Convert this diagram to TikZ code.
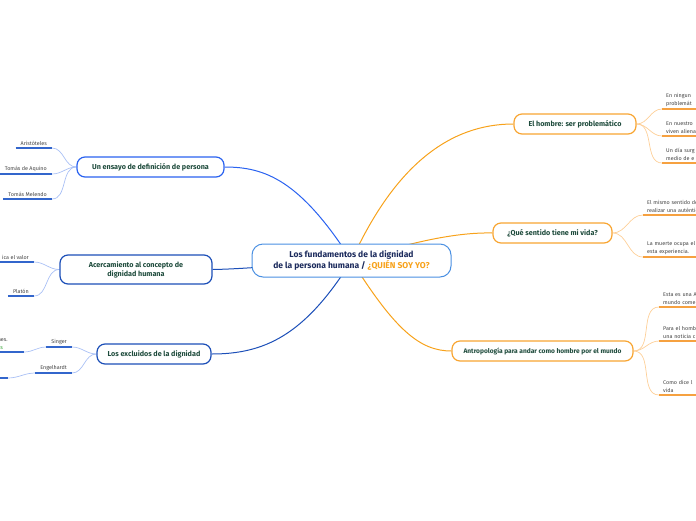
\documentclass[tikz,border=0pt]{standalone}
\usepackage{fontspec}
\setmainfont{Fira Sans}
\usetikzlibrary{backgrounds}

\definecolor{rootline}{HTML}{4A90E2}
\definecolor{rootnavy}{HTML}{1B2A5C}
\definecolor{yoorange}{HTML}{F7A21B}
\definecolor{blueA}{HTML}{2A62F0}
\definecolor{blueB}{HTML}{1C4FB8}
\definecolor{twigblue}{HTML}{A9C0F5}
\definecolor{ulblue}{HTML}{3366CC}
\definecolor{orangeA}{HTML}{F8A532}
\definecolor{twigorange}{HTML}{FDCF98}
\definecolor{ulorange}{HTML}{F6A140}
\definecolor{topicgreen}{HTML}{1E4B3C}
\definecolor{leafgray}{HTML}{444444}
\definecolor{linkgreen}{HTML}{2CA02C}

\tikzset{
  root/.style={draw=rootline, line width=1pt, rounded corners=11pt, fill=white,
    align=center, text=rootnavy, font=\fontsize{8.5}{10.5}\selectfont\bfseries,
    minimum width=199pt, minimum height=33pt, inner sep=2pt},
  topic/.style={draw=#1, line width=1.2pt, rounded corners=8pt, fill=white,
    align=center, text=topicgreen, font=\fontsize{7.2}{9}\selectfont\bfseries,
    minimum height=20pt, inner sep=2pt},
  leafL/.style={anchor=south east, align=right, text=leafgray,
    font=\fontsize{5.4}{7.8}\selectfont, inner xsep=5pt, inner ysep=2pt},
  leafR/.style={anchor=south west, align=left, text=leafgray, text width=90pt,
    font=\fontsize{5.4}{7.8}\selectfont, inner xsep=4pt, inner ysep=2pt},
  branch/.style={draw=#1, line width=1pt},
  twig/.style={draw=#1, line width=0.7pt},
  uline/.style={draw=#1, line width=1.8pt},
}

\begin{document}
\begin{tikzpicture}[x=1pt,y=-1pt]
\useasboundingbox (0,0) rectangle (696,520);
\clip (0,0) rectangle (696,520);

% centre
\node[root] (root) at (351.5,260.5)
  {Los fundamentos de la dignidad\\de la persona humana / {\color{yoorange}¿QUIÉN SOY YO?}};

% left topics
\node[topic=blueA, minimum width=147pt] (ensayo) at (150.5,167) {Un ensayo de definición de persona};
\node[topic=blueB, minimum width=152pt, minimum height=29pt] (acerca) at (136,269.5)
  {Acercamiento al concepto de\\dignidad humana};
\node[topic=blueB, minimum width=114pt] (excluidos) at (154,354) {Los excluidos de la dignidad};

% right topics
\node[topic=orangeA, minimum width=122pt] (hombre) at (575,124) {El hombre: ser problemático};
\node[topic=orangeA, minimum width=119pt] (sentido) at (552.5,233) {¿Qué sentido tiene mi vida?};
\node[topic=orangeA, minimum width=181pt, font=\fontsize{6.6}{9}\selectfont\bfseries] (antropo) at (542.5,351)
  {Antropología para andar como hombre por el mundo};

% left leaves
\node[leafL] (aristo) at (52,148) {Aristóteles};
\node[leafL] (aquino) at (52,174) {Tomás de Aquino};
\node[leafL] (melendo) at (52,199) {Tomás Melendo};
\node[leafL] (valor) at (34,262) {ica el valor};
\node[leafL] (platon) at (34,296) {Platón};
\node[leafL] (singer) at (72,347) {Singer};
\node[leafL] (engel) at (72,373) {Engelhardt};
\node[leafL, align=left, text width=21pt] (nes) at (24,352) {nes.\\{\color{linkgreen}ss}};
\node[leafL, minimum width=20pt] (engsub) at (8,378) {};

% right leaves
\node[leafR] (ningun) at (662,109) {En ningun\\problemát};
\node[leafR] (nuestro) at (662,136) {En nuestro\\viven aliena};
\node[leafR] (surg) at (662,163) {Un día surg\\medio de e};
\node[leafR] (mismo) at (643,215) {El mismo sentido de\\realizar una auténtic};
\node[leafR] (muerte) at (643,257) {La muerte ocupa el l\\esta experiencia.};
\node[leafR] (esta) at (659,307) {Esta es una A\\mundo come};
\node[leafR] (para) at (659,341) {Para el homb\\una noticia c};
\node[leafR] (como) at (659,395) {Como dice l\\vida};

% underlines
\foreach \n in {aristo,aquino,melendo,valor,platon,singer,engel,nes,engsub}
  \draw[uline=ulblue] (\n.south west) -- (\n.south east);
\foreach \n in {ningun,nuestro,surg,mismo,muerte,esta,para,como}
  \draw[uline=ulorange] (\n.south west) -- (\n.south east);

\begin{pgfonlayer}{background}
% main branches
\draw[branch=blueA] (root.center) .. controls (300,180) and (265,167) .. (ensayo.east);
\draw[branch=blueB] (root.center) .. controls (300,264) and (245,269) .. (acerca.east);
\draw[branch=blueB] (root.center) .. controls (305,335) and (265,354) .. (excluidos.east);
\draw[branch=yoorange] (root.center) .. controls (395,165) and (450,124) .. (hombre.west);
\draw[branch=yoorange] (root.center) .. controls (400,246) and (450,232) .. (sentido.west);
\draw[branch=yoorange] (root.center) .. controls (395,330) and (420,351) .. (antropo.west);

% twigs
\foreach \n in {aristo,aquino,melendo}
  \draw[twig=twigblue] (ensayo.west) to[out=180,in=0] (\n.south east);
\foreach \n in {valor,platon}
  \draw[twig=twigblue] (acerca.west) to[out=180,in=0] (\n.south east);
\foreach \n in {singer,engel}
  \draw[twig=twigblue] (excluidos.west) to[out=180,in=0] (\n.south east);
\draw[twig=twigblue] (singer.south west) to[out=180,in=0] (nes.south east);
\draw[twig=twigblue] (engel.south west) to[out=180,in=0] (engsub.south east);
\foreach \n in {ningun,nuestro,surg}
  \draw[twig=twigorange] (hombre.east) to[out=0,in=180] (\n.south west);
\foreach \n in {mismo,muerte}
  \draw[twig=twigorange] (sentido.east) to[out=0,in=180] (\n.south west);
\foreach \n in {esta,para,como}
  \draw[twig=twigorange] (antropo.east) to[out=0,in=180] (\n.south west);
\end{pgfonlayer}
\end{tikzpicture}
\end{document}
